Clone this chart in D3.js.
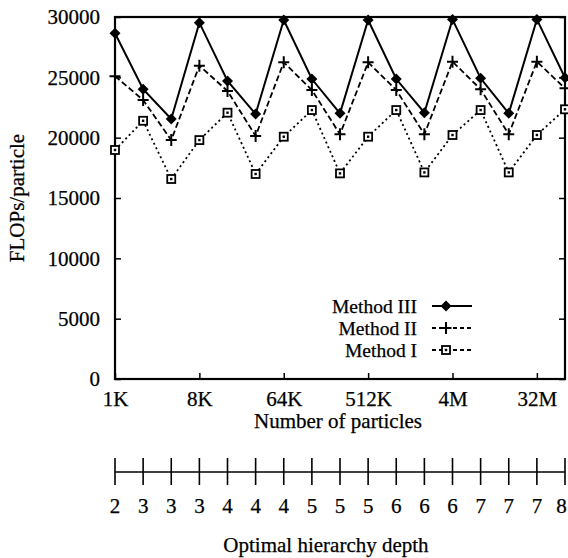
<!DOCTYPE html>
<html>
<head>
<meta charset="utf-8">
<script src="https://cdn.jsdelivr.net/npm/d3@7"></script>
<style>
  html, body { margin: 0; padding: 0; background: #fff; }
  svg text { font-family: "Liberation Serif", "Times New Roman", serif; fill: #000;
             stroke: #000; stroke-width: 0.25px; }
</style>
</head>
<body>
<div id="chart"></div>
<script>
(function () {
    "use strict";

    // ---- data ---------------------------------------------------
    const particles = d3.range(10, 27).map(p => Math.pow(2, p)); // 1K .. 64M
    const method3 = [28650, 24010, 21550, 29530, 24700, 21960, 29750, 24860, 22020,
                     29750, 24860, 22070, 29800, 24920, 22020, 29800, 24970];
    const method2 = [25100, 23120, 19800, 25965, 23870, 20140, 26240, 23950, 20280,
                     26240, 23950, 20280, 26300, 24010, 20280, 26300, 24090];
    const method1 = [18980, 21400, 16575, 19800, 22070, 16990, 20080, 22290, 17040,
                     20080, 22290, 17120, 20220, 22290, 17120, 20220, 22350];
    const depthLabels = ["2", "3", "3", "3", "4", "4", "4", "5", "5", "5",
                         "6", "6", "6", "7", "7", "7", "8"];
    const xTickValues = [Math.pow(2, 10), Math.pow(2, 13), Math.pow(2, 16),
                         Math.pow(2, 19), Math.pow(2, 22), Math.pow(2, 25)];
    const xTickLabels = ["1K", "8K", "64K", "512K", "4M", "32M"];
    const yTickValues = [0, 5000, 10000, 15000, 20000, 25000, 30000];

    const W = 568, H = 558;
    const plot = { left: 115, right: 565, top: 17, bottom: 379 };

    const svg = d3.select("#chart").append("svg")
        .attr("width", W).attr("height", H);

    const x = d3.scaleLog().base(2)
        .domain([particles[0], particles[particles.length - 1]])
        .range([plot.left, plot.right]);
    const y = d3.scaleLinear().domain([0, 30000]).range([plot.bottom, plot.top]);

    const FS = 21;

    // ---- axes ----------------------------------------------------
    const axisStyle = g => {
        g.select(".domain").remove();
        g.selectAll(".tick line").attr("stroke", "#000").attr("stroke-width", 1.5);
        g.selectAll(".tick text").attr("font-size", FS).attr("font-family", null);
    };

    svg.append("g")
        .attr("transform", `translate(${plot.left},0)`)
        .call(d3.axisLeft(y).tickValues(yTickValues).tickFormat(d3.format("d"))
            .tickSizeInner(-6).tickSizeOuter(0).tickPadding(15))
        .call(axisStyle);

    svg.append("g")
        .attr("transform", `translate(${plot.right},0)`)
        .call(d3.axisRight(y).tickValues(yTickValues).tickFormat("")
            .tickSizeInner(-6).tickSizeOuter(0))
        .call(axisStyle);

    svg.append("g")
        .attr("transform", `translate(0,${plot.bottom})`)
        .call(d3.axisBottom(x).tickValues(xTickValues)
            .tickFormat((d, i) => xTickLabels[i])
            .tickSizeInner(-6).tickSizeOuter(0).tickPadding(12))
        .call(axisStyle);

    // frame
    svg.append("rect")
        .attr("x", plot.left).attr("y", plot.top)
        .attr("width", plot.right - plot.left).attr("height", plot.bottom - plot.top)
        .attr("fill", "none").attr("stroke", "#000").attr("stroke-width", 2.2);

    // axis titles
    svg.append("text")
        .attr("transform", `translate(24,${(plot.top + plot.bottom) / 2}) rotate(-90)`)
        .attr("text-anchor", "middle").attr("font-size", FS)
        .text("FLOPs/particle");

    svg.append("text")
        .attr("x", 338).attr("y", 428)
        .attr("text-anchor", "middle").attr("font-size", FS)
        .text("Number of particles");

    // ---- series --------------------------------------------------
    const series = [
        { name: "Method III", values: method3, dash: null,  marker: "diamond" },
        { name: "Method II",  values: method2, dash: "6,3", marker: "plus" },
        { name: "Method I",   values: method1, dash: "2,3", marker: "square" }
    ];

    const line = d3.line().x(d => x(d[0])).y(d => y(d[1]));

    function drawMarker(g, kind, cx, cy) {
        if (kind === "diamond") {
            g.append("path")
                .attr("d", `M${cx},${cy - 5.5}L${cx + 5.5},${cy}L${cx},${cy + 5.5}L${cx - 5.5},${cy}Z`)
                .attr("fill", "#000");
        } else if (kind === "plus") {
            g.append("path")
                .attr("d", `M${cx - 5.5},${cy}H${cx + 5.5}M${cx},${cy - 6}V${cy + 6}`)
                .attr("stroke", "#000").attr("stroke-width", 2);
        } else {
            g.append("rect")
                .attr("x", cx - 4).attr("y", cy - 4).attr("width", 8).attr("height", 8)
                .attr("fill", "#fff").attr("stroke", "#000").attr("stroke-width", 1.8);
            g.append("rect")
                .attr("x", cx - 1.2).attr("y", cy - 1.2).attr("width", 2.4).attr("height", 2.4)
                .attr("fill", "#000");
        }
    }

    series.forEach(s => {
        const pts = particles.map((p, i) => [p, s.values[i]]);
        svg.append("path")
            .datum(pts)
            .attr("d", line)
            .attr("fill", "none").attr("stroke", "#000")
            .attr("stroke-width", s.dash ? 1.8 : 2)
            .attr("stroke-dasharray", s.dash);
        const mg = svg.append("g");
        pts.forEach(d => drawMarker(mg, s.marker, x(d[0]), y(d[1])));
    });

    // ---- legend --------------------------------------------------
    const legend = svg.append("g");
    series.forEach((s, i) => {
        const ly = 306 + i * 22;
        legend.append("text")
            .attr("x", 417).attr("y", ly + 7)
            .attr("text-anchor", "end").attr("font-size", 19.5)
            .text(s.name);
        legend.append("line")
            .attr("x1", 432).attr("x2", 472).attr("y1", ly).attr("y2", ly)
            .attr("stroke", "#000").attr("stroke-width", 1.8)
            .attr("stroke-dasharray", s.dash ? "4,3" : null);
        drawMarker(legend, s.marker, 446, ly);
    });

    // ---- depth axis ----------------------------------------------
    const depthY = 472;
    const dg = svg.append("g");
    dg.append("line")
        .attr("x1", x(particles[0])).attr("x2", x(particles[particles.length - 1]))
        .attr("y1", depthY).attr("y2", depthY)
        .attr("stroke", "#000").attr("stroke-width", 1.6);
    dg.selectAll("line.tk")
        .data(particles)
        .join("line")
        .attr("class", "tk")
        .attr("x1", d => x(d)).attr("x2", d => x(d))
        .attr("y1", depthY - 14).attr("y2", depthY + 13)
        .attr("stroke", "#000").attr("stroke-width", 1.6);
    // last label sits against the page edge, keep it inside
    dg.selectAll("text")
        .data(particles)
        .join("text")
        .attr("x", d => Math.min(x(d), W - 6.5)).attr("y", 513)
        .attr("text-anchor", "middle").attr("font-size", FS)
        .text((d, i) => depthLabels[i]);

    svg.append("text")
        .attr("x", 326).attr("y", 552)
        .attr("text-anchor", "middle").attr("font-size", FS)
        .text("Optimal hierarchy depth");
})();
</script>
</body>
</html>
